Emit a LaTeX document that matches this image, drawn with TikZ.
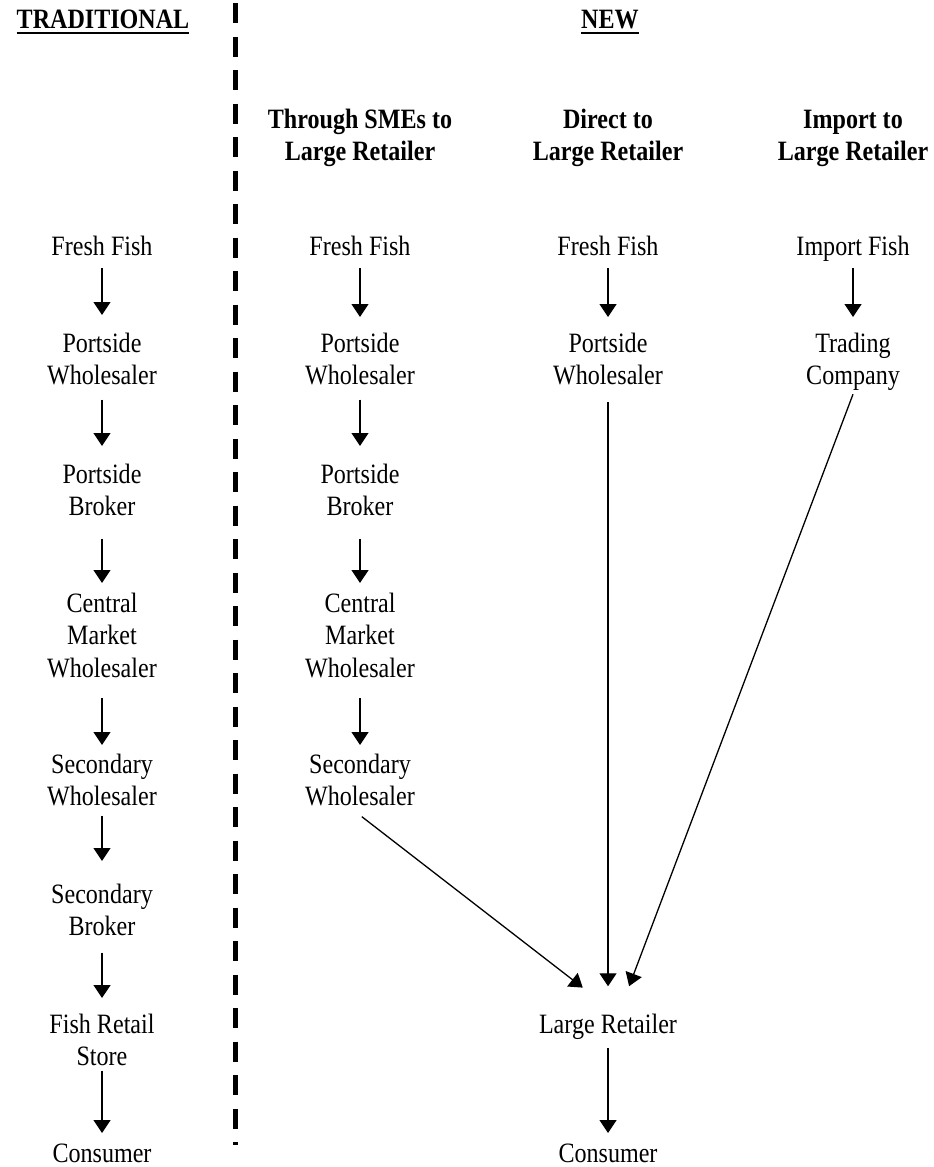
\documentclass[tikz,border=0pt]{standalone}
\usepackage{fontspec}
\setmainfont{Liberation Serif}[FakeStretch=0.86]
\usetikzlibrary{arrows.meta}
\newcommand{\lns}[1]{\begin{tabular}[t]{@{}c@{}}#1\end{tabular}}
\begin{document}
\begin{tikzpicture}[x=1pt,y=-1pt,
  every node/.style={inner sep=0pt, outer sep=0pt, anchor=base, font=\fontsize{28}{32.5}\selectfont},
  hdr/.style={font=\fontsize{28}{32.5}\selectfont\bfseries},
  arr/.style={-{Triangle[width=17pt,length=13pt]}, line width=1.3pt},
  uline/.style={line width=2pt},
  sepline/.style={line width=5pt, dash pattern=on 20pt off 13.5pt}]
\useasboundingbox (0,0) rectangle (934,1167);

% separator
\coordinate (dtop) at (235,3);
\coordinate (dbot) at (235,1145);
\draw[sepline] (dtop) -- (dbot);

% headers
\node[hdr] (trad) at (103,28) {TRADITIONAL};
\draw[uline] ([yshift=-5pt]trad.base west) -- ([yshift=-5pt]trad.base east);
\node[hdr] (new) at (610,28) {NEW};
\draw[uline] ([yshift=-5pt]new.base west) -- ([yshift=-5pt]new.base east);

\node[hdr] (sh2) at (360,128) {\lns{Through SMEs to\\Large Retailer}};
\node[hdr] (sh3) at (608,128) {\lns{Direct to\\Large Retailer}};
\node[hdr] (sh4) at (853,128) {\lns{Import to\\Large Retailer}};

% traditional column
\node (t1) at (102,255) {\lns{Fresh Fish}};
\node (t2) at (102,352) {\lns{Portside\\Wholesaler}};
\node (t3) at (102,483) {\lns{Portside\\Broker}};
\node (t4) at (102,612) {\lns{Central\\Market\\Wholesaler}};
\node (t5) at (102,773) {\lns{Secondary\\Wholesaler}};
\node (t6) at (102,903) {\lns{Secondary\\Broker}};
\node (t7) at (102,1033) {\lns{Fish Retail\\Store}};
\node (t8) at (102,1162) {\lns{Consumer}};

\draw[arr, shorten <=3.25pt, shorten >=14.25pt] (t1.south) -- (t2.north);
\draw[arr, shorten <=5.25pt, shorten >=14.25pt] (t2.south) -- (t3.north);
\draw[arr, shorten <=13.25pt, shorten >=6.25pt] (t3.south) -- (t4.north);
\draw[arr, shorten <=11.25pt, shorten >=5.25pt] (t4.south) -- (t5.north);
\draw[arr, shorten <=0.25pt, shorten >=19.25pt] (t5.south) -- (t6.north);
\draw[arr, shorten <=7.25pt, shorten >=12.25pt] (t6.south) -- (t7.north);
\draw[arr, shorten <=-4.75pt, shorten >=6.25pt] (t7.south) -- (t8.north);

% through SMEs column
\node (s1) at (360,255) {\lns{Fresh Fish}};
\node (s2) at (360,352) {\lns{Portside\\Wholesaler}};
\node (s3) at (360,483) {\lns{Portside\\Broker}};
\node (s4) at (360,612) {\lns{Central\\Market\\Wholesaler}};
\node (s5) at (360,773) {\lns{Secondary\\Wholesaler}};

\draw[arr, shorten <=3.25pt, shorten >=12.25pt] (s1.south) -- (s2.north);
\draw[arr, shorten <=5.25pt, shorten >=14.25pt] (s2.south) -- (s3.north);
\draw[arr, shorten <=13.25pt, shorten >=6.25pt] (s3.south) -- (s4.north);
\draw[arr, shorten <=11.25pt, shorten >=5.25pt] (s4.south) -- (s5.north);

% direct column
\node (d1) at (608,255) {\lns{Fresh Fish}};
\node (d2) at (608,352) {\lns{Portside\\Wholesaler}};
\node (lr) at (608,1033) {\lns{Large Retailer}};
\node (dc) at (608,1162) {\lns{Consumer}};

\draw[arr, shorten <=3.25pt, shorten >=12.25pt] (d1.south) -- (d2.north);
\draw[arr, shorten <=5.25pt, shorten >=6.25pt] (lr.south) -- (dc.north);

% import column
\node (i1) at (853,255) {\lns{Import Fish}};
\node (i2) at (853,352) {\lns{Trading\\Company}};

\draw[arr, shorten <=3.25pt, shorten >=12.25pt] (i1.south) -- (i2.north);

% converging arrows into Large Retailer
\draw[arr, shorten <=2.25pt, shorten >=37pt] (s5.south) -- ([xshift=4pt]lr.north);
\draw[arr, shorten <=8pt, shorten >=24pt] (d2.south) -- (lr.north);
\draw[arr, shorten <=0pt, shorten >=25.7pt] (i2.south) -- ([xshift=12pt]lr.north);
\end{tikzpicture}
\end{document}
